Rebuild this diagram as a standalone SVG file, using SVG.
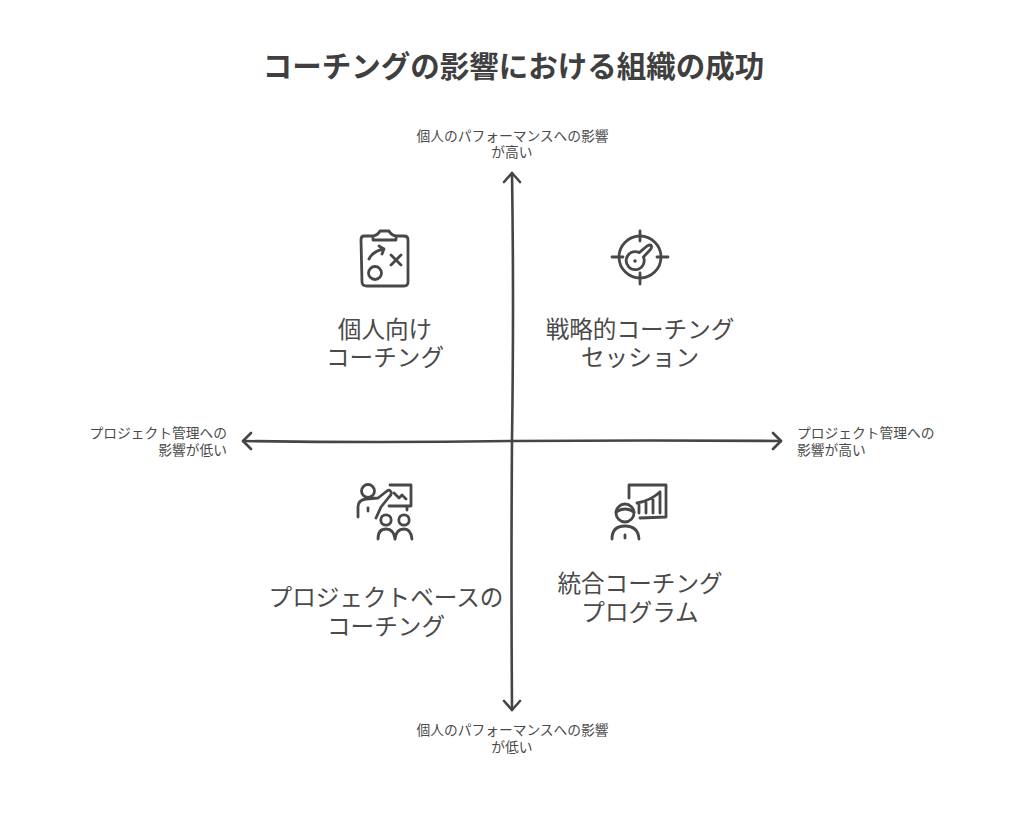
<svg xmlns="http://www.w3.org/2000/svg" width="1024" height="819" viewBox="0 0 1024 819">
<style>
text{font-family:"Noto Sans CJK JP","Noto Sans",sans-serif;fill:#4a4a4a}
.t{font-size:29.5px;font-weight:700;text-anchor:middle;fill:#3f3f3f}
.l{font-size:23.6px;text-anchor:middle}
.s{font-size:13.75px}
.m{text-anchor:middle}.e{text-anchor:end}
.a{fill:none;stroke:#454545;stroke-width:2.6;stroke-linecap:round;stroke-linejoin:round}
.i{fill:none;stroke:#484848;stroke-width:2.8;stroke-linecap:round;stroke-linejoin:round}
</style>
<rect width="1024" height="819" fill="#fff"/>
<text class="t" x="513.5" y="77">コーチングの影響における組織の成功</text>
<g id="connectors">
<path class="a" d="M512 173Q514 300 512 440Q511 580 512 710"/>
<path class="a" d="M504 182L512 173L520 182M504 701L512 710L520 701"/>
<path class="a" d="M243 441Q380 443 512 441Q650 440 781 441"/>
<path class="a" d="M251 433L243 441L251 449M773 433L781 441L773 449"/>
</g>
<g id="axis-top"><text class="s m" y="140.5"><tspan x="512.5">個人のパフォーマンスへの影響</tspan><tspan x="512" dy="16.5">が高い</tspan></text></g>
<g id="axis-bottom"><text class="s m" y="735"><tspan x="512.5">個人のパフォーマンスへの影響</tspan><tspan x="512" dy="16.5">が低い</tspan></text></g>
<g id="axis-left"><text class="s e" y="438"><tspan x="227">プロジェクト管理への</tspan><tspan x="227" dy="16.5">影響が低い</tspan></text></g>
<g id="axis-right"><text class="s" y="438"><tspan x="797">プロジェクト管理への</tspan><tspan x="797" dy="16.5">影響が高い</tspan></text></g>
<g id="node-individual">
<path class="i" d="M373 236H364Q361 236 361 240L362 282Q362 286 367 286H404Q408 286 408 282V240Q408 236 404 236H396M373 240V236Q378 235 380 231H389Q391 235 396 236V240Z"/>
<circle class="i" cx="375" cy="273" r="6.5"/>
<path class="i" d="M369 259Q373 251 384 249M379 246L384 249L382 254M391 255L401 265M401 255L391 265"/>
<text class="l" y="338"><tspan x="385">個人向け</tspan><tspan x="385" dy="28">コーチング</tspan></text>
</g>
<g id="node-strategic">
<circle class="i" cx="640" cy="257" r="21"/>
<path class="i" d="M640 231V241M640 273V284M612 257H623M657 257H668"/>
<path class="i" d="M639.2 252.6L647 246Q651 244 651.5 246Q652 248 650 250L643.4 257A9 9 0 1 1 639.2 252.6Z"/>
<circle cx="635" cy="261" r="1.8" fill="#484848"/>
<text class="l" y="338"><tspan x="640">戦略的コーチング</tspan><tspan x="640" dy="28">セッション</tspan></text>
</g>
<g id="node-project">
<circle class="i" cx="368" cy="491" r="6.5"/>
<path class="i" d="M358 517V507Q358 500 366 499L378 498L387 491Q390 489 391 492Q392 495 389 497L381 507L376 518M368 508V511"/>
<path class="i" d="M390 485H411V506H389M407 506V510M394 493L399 498L402 495L406 499"/>
<circle class="i" cx="386" cy="520" r="5.2"/><circle class="i" cx="404" cy="520" r="5.2"/>
<path class="i" d="M378 539Q378 529 386 529Q394 529 395 539Q396 529 404 529Q411 529 412 539"/>
<text class="l" y="606"><tspan x="386">プロジェクトベースの</tspan><tspan x="386" dy="29">コーチング</tspan></text>
</g>
<g id="node-integrated">
<path class="i" d="M629 498V485H666V517L640 518"/>
<path class="i" d="M639 513V505M646 513V503M653 513V500M660 513V492M637 503Q650 501 660 492"/>
<circle class="i" cx="625" cy="513" r="9"/>
<path class="i" d="M616 512Q625 506 634 512M612 539Q612 526 625 526Q638 526 639 539M625 535V538"/>
<text class="l" y="592"><tspan x="640">統合コーチング</tspan><tspan x="640" dy="29">プログラム</tspan></text>
</g>
</svg>
